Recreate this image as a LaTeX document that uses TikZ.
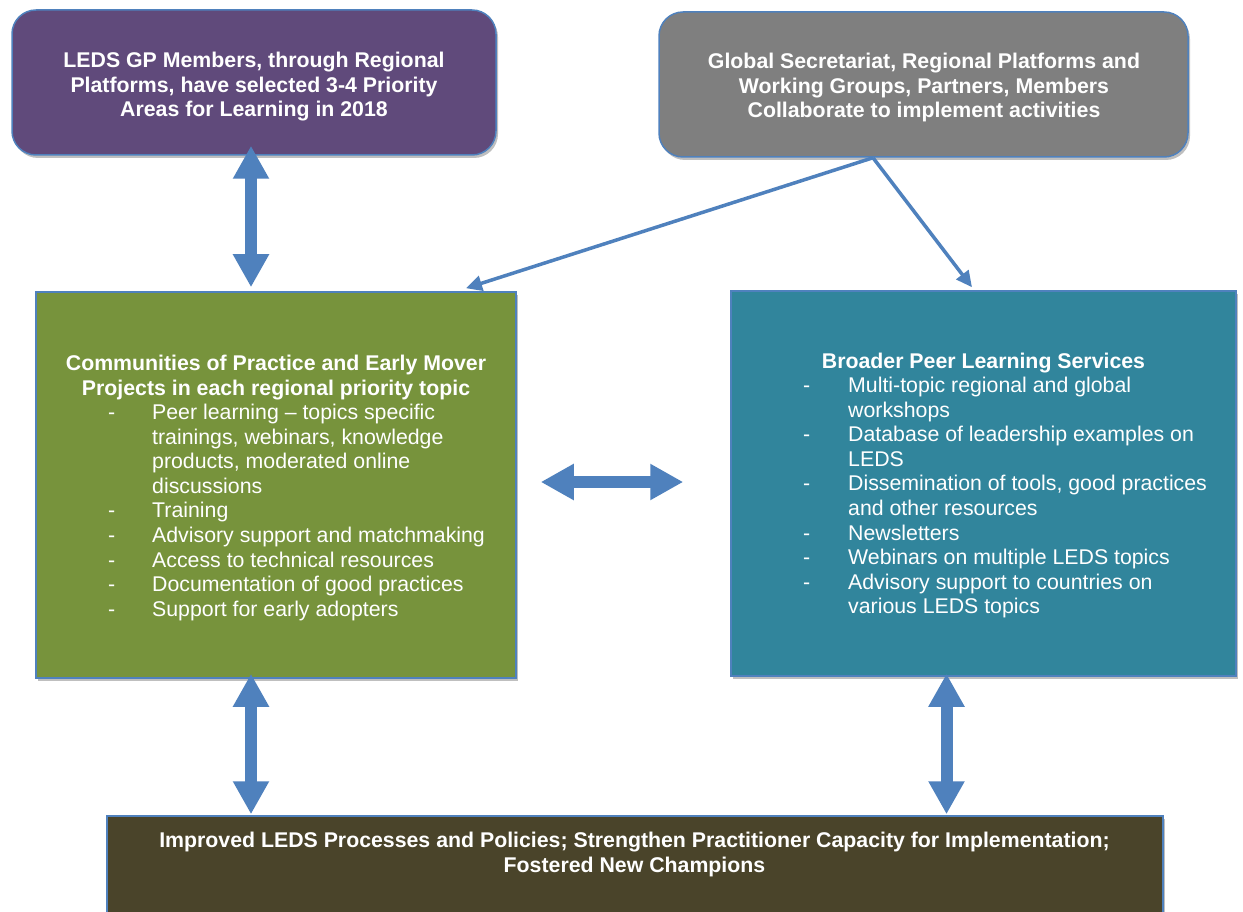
\documentclass[tikz,border=0pt]{standalone}
\usepackage{fontspec}
\setmainfont{Liberation Sans}
\usetikzlibrary{arrows.meta,shadows}
\definecolor{edgeblue}{HTML}{4F81BD}
\definecolor{arrowblue}{HTML}{4F81BD}
\definecolor{purp}{HTML}{604A7B}
\definecolor{greyfill}{HTML}{7F7F7F}
\definecolor{greenfill}{HTML}{77933C}
\definecolor{tealfill}{HTML}{31859C}
\definecolor{darkfill}{HTML}{4A442A}
\begin{document}
\begin{tikzpicture}[x=1pt,y=-1pt,
  box/.style={draw=edgeblue, line width=1.5pt, inner sep=0pt,
    drop shadow={shadow xshift=2pt, shadow yshift=-3pt, opacity=0.25, fill=black}},
  rbox/.style={box, rounded corners=24pt},
  txt/.style={text=white, inner sep=0pt, font=\fontsize{21.3}{24.6}\selectfont},
  blockarrow/.style={line width=12pt, draw=arrowblue,
    {Triangle[length=33pt,width=34pt]}-{Triangle[length=33pt,width=34pt]}},
  thinarrow/.style={line width=3.5pt, draw=arrowblue, -{Triangle[length=16pt,width=15pt]}}
]
\useasboundingbox[fill=white] (0,0) rectangle (1243,912);

% boxes
\node[rbox, fill=purp, minimum width=484pt, minimum height=145pt] (lg) at (254,82.5) {};
\node[rbox, fill=greyfill, minimum width=529pt, minimum height=145pt] (gs) at (923.5,84.5) {};
\node[box, fill=greenfill, minimum width=480pt, minimum height=386pt] (cp) at (276,485) {};
\node[box, fill=tealfill, minimum width=505pt, minimum height=385pt] (bp) at (983.5,483.5) {};
\node[box, fill=darkfill, minimum width=1056pt, minimum height=124pt] (out) at (635,878) {};

% texts
\node[txt, anchor=base] (lgt) at (254,67.5) {\bfseries\begin{tabular}[t]{@{}c@{}}LEDS GP Members, through Regional\\ Platforms, have selected 3-4 Priority\\ Areas for Learning in 2018\end{tabular}};
\node[txt, anchor=base] (gst) at (924,68.5) {\bfseries\begin{tabular}[t]{@{}c@{}}Global Secretariat, Regional Platforms and\\ Working Groups, Partners, Members\\ Collaborate to implement activities\end{tabular}};
\node[txt, anchor=base] (cpt) at (276,370.5) {\bfseries\begin{tabular}[t]{@{}c@{}}Communities of Practice and Early Mover\\ Projects in each regional priority topic\end{tabular}};
\node[txt, anchor=base west] (cpl) at (108,419.5) {\begin{tabular}[t]{@{}p{44pt}@{}l@{}}
- & Peer learning -- topics specific\\
  & trainings, webinars, knowledge\\
  & products, moderated online\\
  & discussions\\
- & Training\\
- & Advisory support and matchmaking\\
- & Access to technical resources\\
- & Documentation of good practices\\
- & Support for early adopters
\end{tabular}};
\node[txt, anchor=base] (bpt) at (983.5,368.5) {\bfseries Broader Peer Learning Services};
\node[txt, anchor=base west] (bpl) at (803,392.5) {\begin{tabular}[t]{@{}p{45pt}@{}l@{}}
- & Multi-topic regional and global\\
  & workshops\\
- & Database of leadership examples on\\
  & LEDS\\
- & Dissemination of tools, good practices\\
  & and other resources\\
- & Newsletters\\
- & Webinars on multiple LEDS topics\\
- & Advisory support to countries on\\
  & various LEDS topics
\end{tabular}};
\node[txt, anchor=base] (outt) at (634.5,847.5) {\bfseries\begin{tabular}[t]{@{}c@{}}Improved LEDS Processes and Policies; Strengthen Practitioner Capacity for Implementation;\\ Fostered New Champions\end{tabular}};

% block arrows
\draw[blockarrow] ([xshift=-3pt,yshift=10pt]lg.south) -- ([xshift=-25pt,yshift=4pt]cp.north);
\draw[blockarrow] ([xshift=-25pt,yshift=5pt]cp.south) -- ([xshift=-384pt,yshift=1pt]out.north);
\draw[blockarrow] ([xshift=-37pt,yshift=3pt]bp.south) -- ([xshift=311.5pt,yshift=1pt]out.north);
\draw[blockarrow] ([xshift=24pt,yshift=3pt]cp.east) -- ([xshift=-47pt,yshift=1.5pt]bp.west);

% thin arrows
\draw[thinarrow] ([xshift=-50.5pt]gs.south) -- ([xshift=190pt,yshift=3pt]cp.north);
\draw[thinarrow] ([xshift=-50.5pt]gs.south) -- ([xshift=-11.5pt,yshift=3pt]bp.north);
\end{tikzpicture}
\end{document}
